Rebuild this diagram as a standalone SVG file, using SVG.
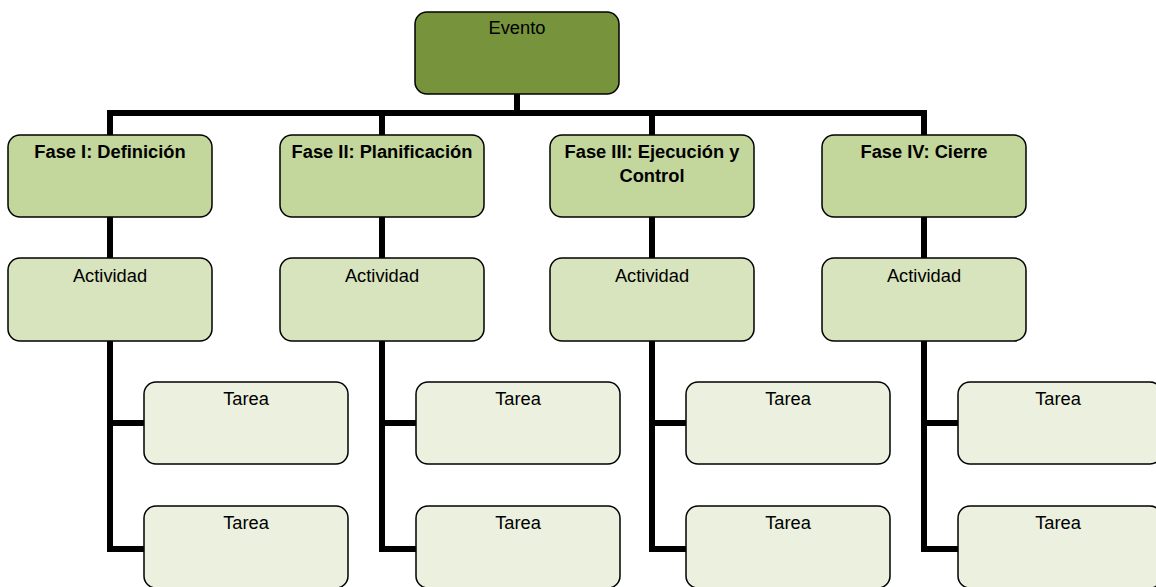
<svg xmlns="http://www.w3.org/2000/svg" width="1156" height="587" viewBox="0 0 1156 587">
<style>
.box{stroke:#000;stroke-width:1.5}
.ev{fill:#77933C}.ph{fill:#C3D69B}.ac{fill:#D7E4BD}.ta{fill:#EBF1DE}
.t{font-family:"Liberation Sans",Arial,sans-serif;font-size:18.3px;fill:#000;text-anchor:middle}
.b{font-weight:bold}
.c{stroke:#000;stroke-width:6;fill:none;stroke-linecap:butt}
</style>
<rect width="1156" height="587" fill="#fff"/>
<g id="connectors">
<path class="c" d="M517 94V113M107 113H927M110 113V135M382 113V135M652 113V135M924 113V135"/>
<path class="c" d="M110 217V258M382 217V258M652 217V258M924 217V258"/>
<path class="c" d="M110 341V549H144M110 423H144"/>
<path class="c" d="M382 341V549H416M382 423H416"/>
<path class="c" d="M652 341V549H686M652 423H686"/>
<path class="c" d="M924 341V549H958M924 423H958"/>
</g>
<g id="evento"><rect class="box ev" x="415" y="12" width="204" height="82" rx="12"/><text class="t" x="517" y="34">Evento</text></g>
<g id="fase1"><rect class="box ph" x="8" y="135" width="204" height="82" rx="12"/><text class="t b" x="110" y="158">Fase I: Definición</text></g>
<g id="fase2"><rect class="box ph" x="280" y="135" width="204" height="82" rx="12"/><text class="t b" x="382" y="158">Fase II: Planificación</text></g>
<g id="fase3"><rect class="box ph" x="550" y="135" width="204" height="82" rx="12"/><text class="t b" x="652" y="158">Fase III: Ejecución y</text><text class="t b" x="652" y="182">Control</text></g>
<g id="fase4"><rect class="box ph" x="822" y="135" width="204" height="82" rx="12"/><text class="t b" x="924" y="158">Fase IV: Cierre</text></g>
<g id="act1"><rect class="box ac" x="8" y="258" width="204" height="83" rx="12"/><text class="t" x="110" y="282">Actividad</text></g>
<g id="act2"><rect class="box ac" x="280" y="258" width="204" height="83" rx="12"/><text class="t" x="382" y="282">Actividad</text></g>
<g id="act3"><rect class="box ac" x="550" y="258" width="204" height="83" rx="12"/><text class="t" x="652" y="282">Actividad</text></g>
<g id="act4"><rect class="box ac" x="822" y="258" width="204" height="83" rx="12"/><text class="t" x="924" y="282">Actividad</text></g>
<g id="tarea1a"><rect class="box ta" x="144" y="382" width="204" height="82" rx="12"/><text class="t" x="246" y="405">Tarea</text></g>
<g id="tarea1b"><rect class="box ta" x="144" y="506" width="204" height="82" rx="12"/><text class="t" x="246" y="529">Tarea</text></g>
<g id="tarea2a"><rect class="box ta" x="416" y="382" width="204" height="82" rx="12"/><text class="t" x="518" y="405">Tarea</text></g>
<g id="tarea2b"><rect class="box ta" x="416" y="506" width="204" height="82" rx="12"/><text class="t" x="518" y="529">Tarea</text></g>
<g id="tarea3a"><rect class="box ta" x="686" y="382" width="204" height="82" rx="12"/><text class="t" x="788" y="405">Tarea</text></g>
<g id="tarea3b"><rect class="box ta" x="686" y="506" width="204" height="82" rx="12"/><text class="t" x="788" y="529">Tarea</text></g>
<g id="tarea4a"><rect class="box ta" x="958" y="382" width="204" height="82" rx="12"/><text class="t" x="1058" y="405">Tarea</text></g>
<g id="tarea4b"><rect class="box ta" x="958" y="506" width="204" height="82" rx="12"/><text class="t" x="1058" y="529">Tarea</text></g>
</svg>
